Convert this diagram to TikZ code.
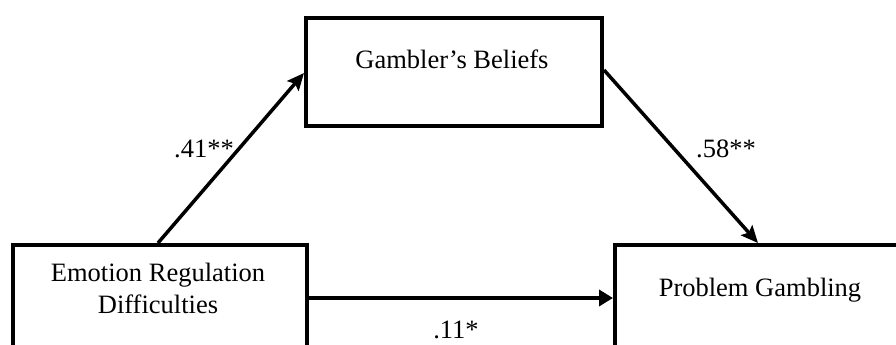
\documentclass[tikz,border=0pt]{standalone}
\usepackage{fontspec}
\setmainfont{Liberation Serif}
\usetikzlibrary{arrows.meta,calc}
\begin{document}
\begin{tikzpicture}[x=1pt,y=-1pt,
  box/.style={draw=black,line width=4pt,fill=white,inner sep=0pt,anchor=north west},
  txt/.style={inner sep=0pt,anchor=base,font=\fontsize{26.5}{33}\selectfont},
  conn/.style={line width=3.5pt,-{Stealth[length=17pt,width=15pt,inset=3pt]}},
  hconn/.style={line width=3.5pt,-{Triangle[length=14pt,width=16pt]}}]
\useasboundingbox (0,0) rectangle (896,345);
\clip (0,0) rectangle (896,345);
\node[box,minimum width=296pt,minimum height=108pt] (gb) at (304,16) {};
\node[box,minimum width=294pt,minimum height=160pt] (erd) at (11,243) {};
\node[box,minimum width=290pt,minimum height=160pt] (pg) at (613,243) {};
\node[txt] (gbt) at (452,69) {Gambler’s Beliefs};
\node[txt] (erdt1) at (158,281) {Emotion Regulation};
\node[txt] (erdt2) at (158,313) {Difficulties};
\node[txt] (pgt) at (760,296) {Problem Gambling};
\coordinate (a1) at ($(erd.north west)+(147,0)$);
\coordinate (a2) at ($(gb.north west)+(0,57)$);
\coordinate (b1) at ($(gb.north east)+(0,54)$);
\coordinate (b2) at ($(pg.north west)+(145,0)$);
\coordinate (c1) at ($(erd.north east)+(0,55)$);
\coordinate (c2) at ($(pg.north west)+(0,55)$);
\draw[conn] (a1) -- (a2);
\draw[conn] (b1) -- (b2);
\draw[hconn] (c1) -- (c2);
\node[txt] (l1) at (204,157) {.41**};
\node[txt] (l2) at (726,157) {.58**};
\node[txt] (l3) at (456,338) {.11*};
\end{tikzpicture}
\end{document}
